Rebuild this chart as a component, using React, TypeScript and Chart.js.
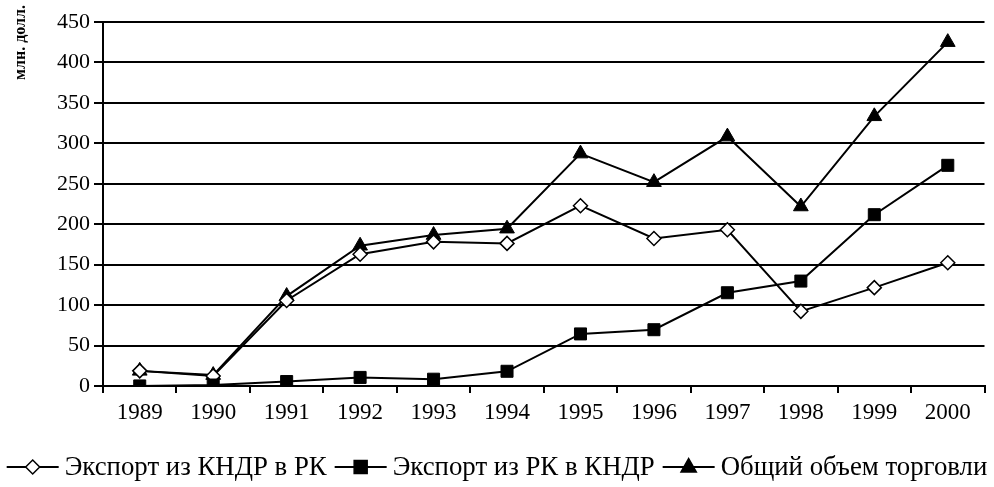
import React, { useEffect, useRef } from "react";
import { Chart, registerables } from "chart.js";

Chart.register(...registerables);

const years = ["1989", "1990", "1991", "1992", "1993", "1994", "1995", "1996", "1997", "1998", "1999", "2000"];
const exportDprkToRok = [18.7, 12.3, 105.7, 162.9, 178.2, 176.3, 222.9, 182.4, 193.1, 92.3, 121.6, 152.4];
const exportRokToDprk = [0.1, 1.2, 5.5, 10.6, 8.4, 18.2, 64.4, 69.6, 115.3, 129.7, 211.8, 272.8];
const totalTrade = [18.7, 13.5, 111.2, 173.4, 186.6, 194.5, 287.3, 252.0, 308.3, 221.9, 333.4, 425.1];
const seriesNames = ["Экспорт из КНДР в РК", "Экспорт из РК в КНДР", "Общий объем торговли"];
const yTitle = "млн. долл.";

const FONT = "'Liberation Serif', 'DejaVu Serif', serif";

function drawMarker(ctx: CanvasRenderingContext2D, style: string, cx: number, cy: number, fill: string) {
  ctx.save();
  ctx.fillStyle = fill;
  ctx.strokeStyle = "#000";
  ctx.lineWidth = 1.5;
  ctx.beginPath();
  if (style === "rectRot") {
    const r = 7;
    ctx.moveTo(cx, cy - r);
    ctx.lineTo(cx + r, cy);
    ctx.lineTo(cx, cy + r);
    ctx.lineTo(cx - r, cy);
    ctx.closePath();
  } else if (style === "rect") {
    const r = 6.5;
    ctx.rect(cx - r, cy - r, 2 * r, 2 * r);
  } else {
    const r = 8.5;
    ctx.moveTo(cx, cy - r);
    ctx.lineTo(cx + r * 0.9, cy + r * 0.6);
    ctx.lineTo(cx - r * 0.9, cy + r * 0.6);
    ctx.closePath();
  }
  ctx.fill();
  ctx.stroke();
  ctx.restore();
}

const extrasPlugin = {
  id: "extras",
  afterDraw(chart: any) {
    const ctx = chart.ctx;
    ctx.save();
    ctx.fillStyle = "#000";
    ctx.font = `bold 16px ${FONT}`;
    ctx.translate(21, 5);
    ctx.rotate(-Math.PI / 2);
    ctx.textAlign = "right";
    ctx.textBaseline = "middle";
    ctx.fillText(yTitle, 0, 0);
    ctx.restore();

    ctx.save();
    ctx.font = `26.8px ${FONT}`;
    ctx.textBaseline = "middle";
    const styles = ["rectRot", "rect", "triangle"];
    const fills = ["#fff", "#000", "#000"];
    const lineW = 52;
    const gap = 6;
    const itemGap = 8;
    const widths = seriesNames.map((n) => lineW + gap + ctx.measureText(n).width);
    const total = widths.reduce((a, b) => a + b, 0) + itemGap * (widths.length - 1);
    let x = Math.max(0, (chart.width - total) / 2);
    const y = 467;
    seriesNames.forEach((name, i) => {
      ctx.strokeStyle = "#000";
      ctx.lineWidth = 2;
      ctx.beginPath();
      ctx.moveTo(x, y);
      ctx.lineTo(x + lineW, y);
      ctx.stroke();
      drawMarker(ctx, styles[i], x + lineW / 2, y, fills[i]);
      ctx.fillStyle = "#000";
      ctx.textAlign = "left";
      ctx.fillText(name, x + lineW + gap, y + 1);
      x += widths[i] + itemGap;
    });
    ctx.restore();
  },
};

export default function App() {
  const ref = useRef<HTMLCanvasElement>(null);
  useEffect(() => {
    document.body.style.margin = "0";
    const chart = new Chart(ref.current!, {
      type: "line",
      data: {
        labels: years,
        datasets: [
          {
            label: seriesNames[2],
            data: totalTrade,
            borderColor: "#000",
            backgroundColor: "#000",
            borderWidth: 2,
            pointStyle: "triangle",
            pointRadius: 8.5,
            pointBorderWidth: 1,
            order: 3,
          },
          {
            label: seriesNames[0],
            data: exportDprkToRok,
            borderColor: "#000",
            backgroundColor: "#fff",
            pointBackgroundColor: "#fff",
            borderWidth: 2,
            pointStyle: "rectRot",
            pointRadius: 7,
            pointBorderWidth: 1.5,
            order: 2,
          },
          {
            label: seriesNames[1],
            data: exportRokToDprk,
            borderColor: "#000",
            backgroundColor: "#000",
            borderWidth: 2,
            pointStyle: "rect",
            pointRadius: 8.5,
            pointBorderWidth: 1,
            order: 1,
          },
        ],
      },
      options: {
        animation: false,
        responsive: false,
        layout: { padding: { top: 22, right: 9, bottom: 0, left: 0 } },
        plugins: { legend: { display: false }, tooltip: { enabled: false } },
        scales: {
          x: {
            offset: true,
            grid: { offset: true, drawOnChartArea: false, drawTicks: true, tickLength: 7, color: "#000", lineWidth: 2 },
            border: { display: true, color: "#000", width: 2 },
            ticks: { color: "#000", font: { family: FONT, size: 23 }, padding: 6, maxRotation: 0 },
            afterFit: (s: any) => {
              s.height = 101;
            },
          },
          y: {
            min: 0,
            max: 450,
            grid: { color: "#000", lineWidth: 2, tickLength: 9 },
            border: { display: true, color: "#000", width: 2 },
            ticks: { stepSize: 50, color: "#000", font: { family: FONT, size: 22 }, padding: 4 },
            afterFit: (s: any) => {
              s.width = 103;
            },
          },
        },
      },
      plugins: [extrasPlugin],
    });
    return () => chart.destroy();
  }, []);
  return <canvas ref={ref} width={994} height={487} style={{ display: "block" }} />;
}
